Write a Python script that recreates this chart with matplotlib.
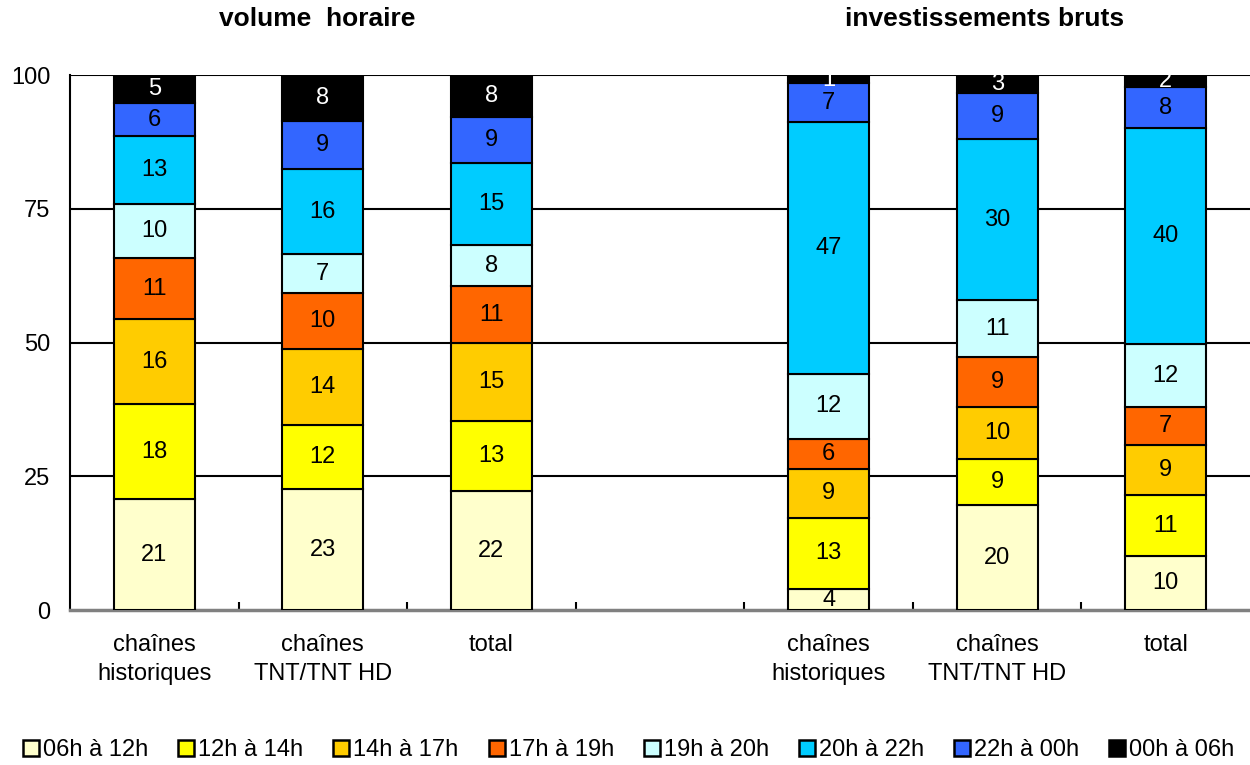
import numpy as np
import matplotlib
matplotlib.use('Agg')
from matplotlib import pyplot as plt
from matplotlib.patches import Patch

plt.rcParams['font.family'] = ['Liberation Sans', 'DejaVu Sans']

# categories (slot 3 is the empty gap between the two groups)
categories = ['chaînes\nhistoriques', 'chaînes\nTNT/TNT HD', 'total',
              'chaînes\nhistoriques', 'chaînes\nTNT/TNT HD', 'total']
positions = [0, 1, 2, 4, 5, 6]

series_names = ['06h à 12h', '12h à 14h', '14h à 17h', '17h à 19h',
                '19h à 20h', '20h à 22h', '22h à 00h', '00h à 06h']
colors = ['#FFFFCC', '#FFFF00', '#FFCC00', '#FF6600',
          '#CCFFFF', '#00CCFF', '#3366FF', '#000000']

# shares in %, one list per time slot, in category order
s_06_12 = [20.7, 22.6, 22.2, 3.9, 19.6, 10.1]
s_12_14 = [17.8, 12.0, 13.1, 13.4, 8.6, 11.4]
s_14_17 = [15.9, 14.2, 14.6, 9.1, 9.8, 9.3]
s_17_19 = [11.4, 10.5, 10.7, 5.6, 9.3, 7.1]
s_19_20 = [10.1, 7.2, 7.6, 12.2, 10.6, 11.8]
s_20_22 = [12.7, 16.0, 15.4, 47.1, 30.1, 40.4]
s_22_00 = [6.2, 9.0, 8.6, 7.2, 8.6, 7.7]
s_00_06 = [5.2, 8.4, 7.8, 1.4, 3.4, 2.2]

series = [s_06_12, s_12_14, s_14_17, s_17_19, s_19_20, s_20_22, s_22_00, s_00_06]

FS = 17

fig = plt.figure(figsize=(12.5, 7.65), dpi=100)
ax = fig.add_axes([0.056, 0.2026, 0.944, 0.699])

bottom = np.zeros(len(positions))
for name, vals, col in zip(series_names, series, colors):
    vals = np.array(vals)
    ax.bar(positions, vals, 0.48, bottom=bottom, color=col,
           edgecolor='black', linewidth=1.5, label=name, zorder=3)
    txtcol = 'white' if col == '#000000' else 'black'
    for x, b, v in zip(positions, bottom, vals):
        ax.text(x, b + v / 2, f'{v:.0f}', ha='center', va='center',
                fontsize=FS, color=txtcol, zorder=4)
    bottom += vals

ax.set_xlim(-0.5, 6.5)
ax.set_ylim(0, 100)
ax.set_yticks([0, 25, 50, 75, 100])
ax.tick_params(axis='y', labelsize=FS, length=0, pad=14)

for y in [25, 50, 75, 100]:
    ax.axhline(y, color='black', linewidth=1.5, zorder=1)

ax.set_xticks(positions)
ax.set_xticklabels(categories, fontsize=FS, linespacing=1.45)
ax.tick_params(axis='x', which='major', length=0, pad=17)
ax.set_xticks([0.5, 1.5, 2.5, 3.5, 4.5, 5.5], minor=True)
ax.tick_params(axis='x', which='minor', direction='in', length=6,
               width=1.5, color='black')

for s in ['top', 'right']:
    ax.spines[s].set_visible(False)
ax.spines['left'].set_linewidth(1.5)
ax.spines['bottom'].set_color('#808080')
ax.spines['bottom'].set_linewidth(2.5)

fig.text(317 / 1250, 1 - 19 / 765, 'volume  horaire', ha='center', va='center',
         fontsize=19, fontweight='bold')
fig.text(985 / 1250, 1 - 19 / 765, 'investissements bruts', ha='center', va='center',
         fontsize=19, fontweight='bold')

handles = [Patch(facecolor=c, edgecolor='black', linewidth=1.8) for c in colors]
fig.legend(handles, series_names, loc='center', bbox_to_anchor=(0.503, 1 - 750 / 765),
           ncol=8, frameon=False, fontsize=FS, handlelength=0.68, handleheight=0.68,
           handletextpad=0.17, columnspacing=1.27, borderaxespad=0)

fig.savefig('out.png', dpi=100)
